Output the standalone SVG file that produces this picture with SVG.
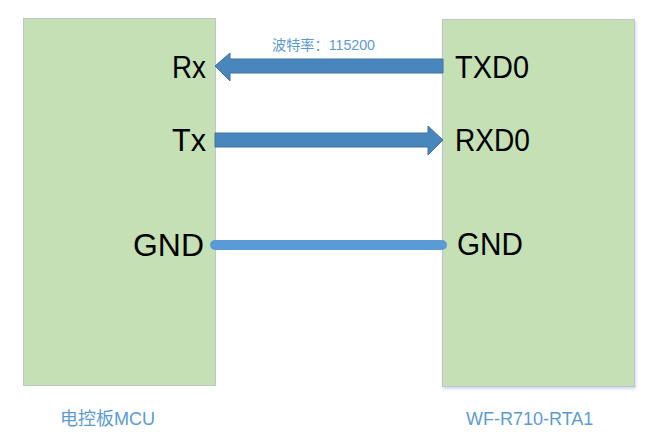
<svg xmlns="http://www.w3.org/2000/svg" width="661" height="442" viewBox="0 0 661 442">
<style>
.box{fill:#C5E0B4;stroke:#BFC4CC;stroke-width:1}
.pin{font-family:"Liberation Sans","Noto Sans",sans-serif;font-size:32px;fill:#000}
.cap{font-family:"Liberation Sans","Noto Sans CJK SC",sans-serif;font-size:18px;fill:#5B9BD5}
.arrow{fill:#4A86BE;stroke:#41719C;stroke-width:1}
</style>
<defs>
<filter id="sh" x="-5%" y="-5%" width="115%" height="115%">
<feDropShadow dx="1" dy="2" stdDeviation="1.5" flood-color="#9DB3E0" flood-opacity="0.5"/>
</filter>
</defs>
<g id="mcu">
<rect class="box" x="23.5" y="18.5" width="192" height="367"/>
<text class="pin" x="172" y="78" textLength="34" lengthAdjust="spacingAndGlyphs">Rx</text>
<text class="pin" x="172" y="151" textLength="34" lengthAdjust="spacingAndGlyphs">Tx</text>
<text class="pin" x="133" y="256" textLength="71" lengthAdjust="spacingAndGlyphs">GND</text>
<text class="cap" x="60" y="425">电控板MCU</text>
</g>
<g id="wifi">
<rect class="box" x="442.5" y="19.5" width="192" height="367" filter="url(#sh)"/>
<text class="pin" x="455" y="78" textLength="74" lengthAdjust="spacingAndGlyphs">TXD0</text>
<text class="pin" x="455" y="151" textLength="75" lengthAdjust="spacingAndGlyphs">RXD0</text>
<text class="pin" x="457" y="255" textLength="66" lengthAdjust="spacingAndGlyphs">GND</text>
<text class="cap" x="466" y="425">WF-R710-RTA1</text>
</g>
<g id="connectors">
<polygon class="arrow" points="443,59 230,59 230,53 215,66 230,81 230,73 443,73"/>
<polygon class="arrow" points="215,133 428,133 428,126 443,140 428,155 428,147 215,147"/>
<line x1="215" y1="245" x2="442" y2="245" stroke="#5B9BD5" stroke-width="10" stroke-linecap="round"/>
<text x="272" y="50" font-family="'Liberation Sans','Noto Sans CJK SC',sans-serif" font-size="14" fill="#5B9BD5" textLength="103" lengthAdjust="spacingAndGlyphs">波特率：115200</text>
</g>
</svg>
